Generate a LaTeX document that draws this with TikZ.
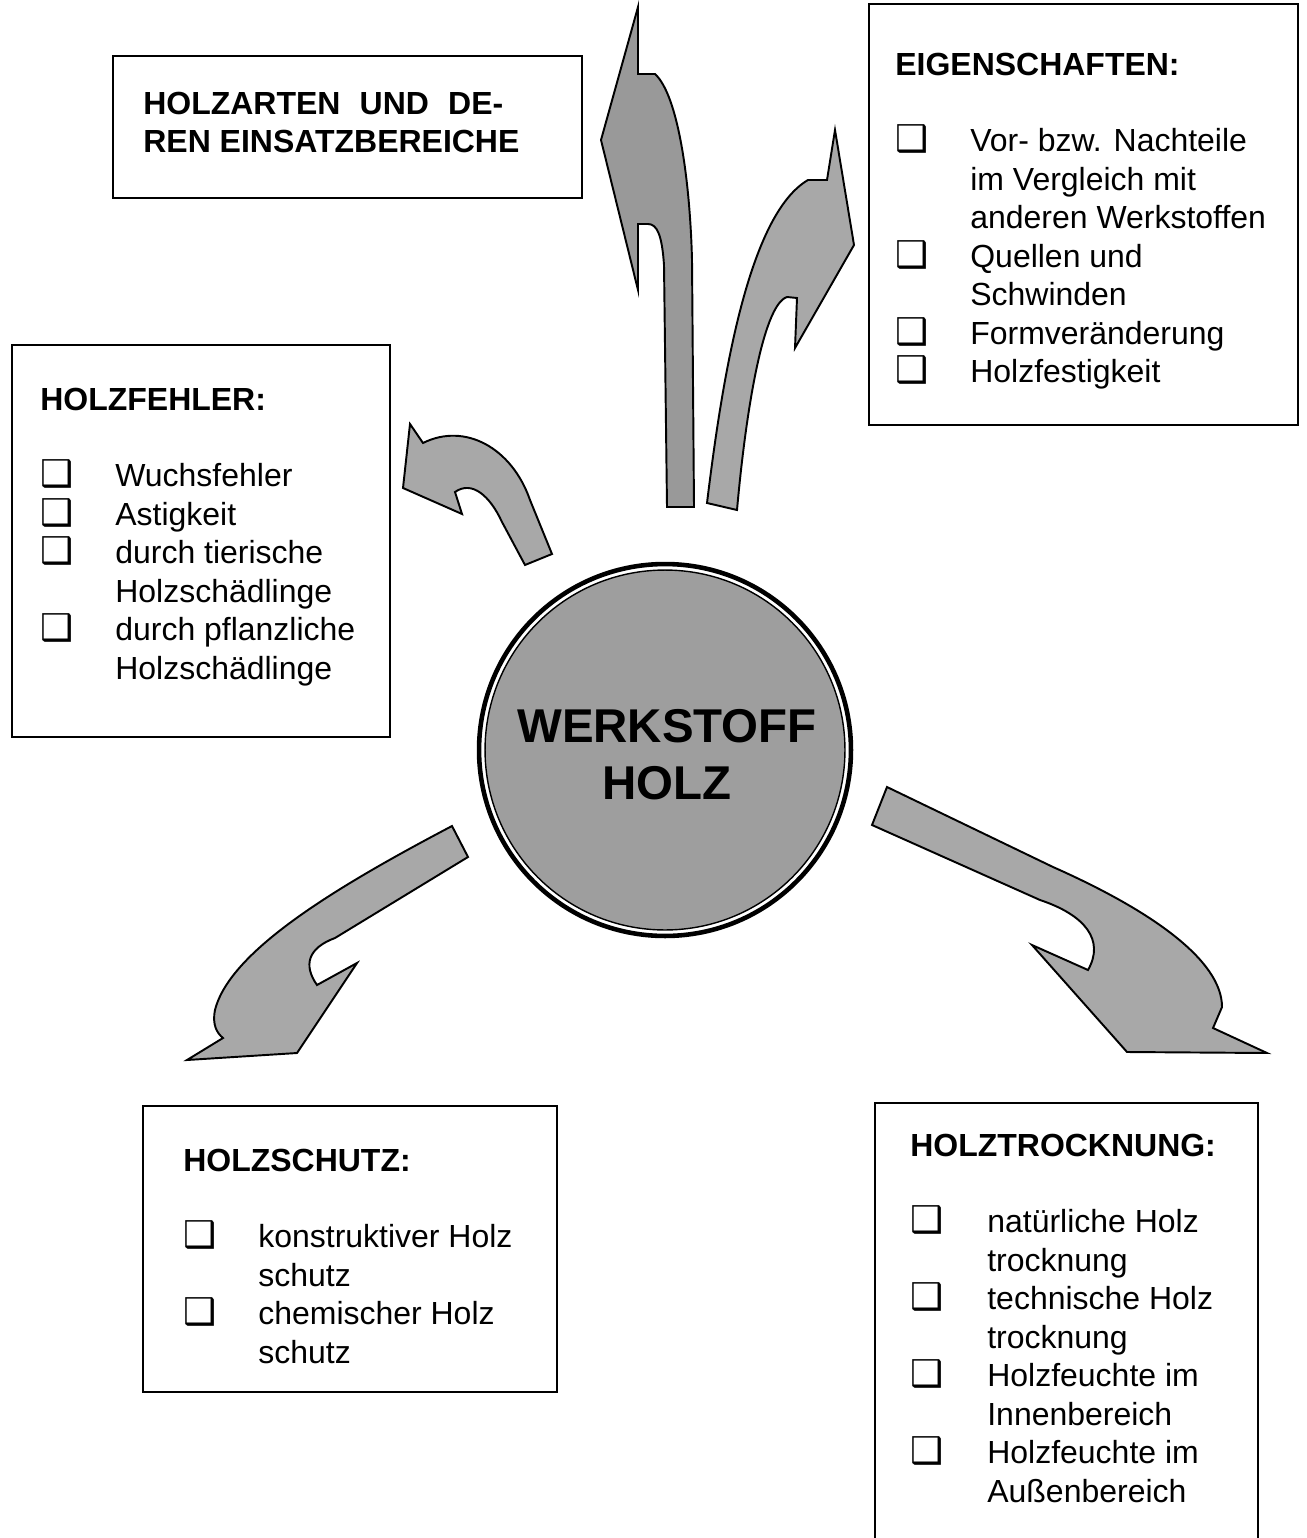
\documentclass[tikz,border=0pt]{standalone}
\usepackage{fontspec}
\setmainfont{Liberation Sans}
\newfontfamily\symfont{DejaVu Sans}
\newcommand{\chk}{{\symfont\fontsize{21}{21.9}\selectfont ❑}}

\begin{document}
\begin{tikzpicture}[x=0.02cm, y=-0.02cm,
    panel/.style={draw, line width=1.1pt, inner sep=0pt, anchor=north west},
    list/.style={anchor=base west, inner sep=0pt, font=\fontsize{18.2}{21.9}\selectfont},
    blockarrow/.style={draw, line width=1.1pt, fill=black!34, line join=miter},
    core/.style={circle, draw, line width=0.8pt, fill=black!38, minimum size=7.2cm,
      inner sep=0pt, align=center, font=\bfseries\fontsize{27}{32.4}\selectfont}]
  \useasboundingbox (0,0) rectangle (1307,1538);
  \clip (0,0) rectangle (1307,1538);

  % boxes
  \node[panel, minimum width=9.38cm, minimum height=2.84cm] (arten) at (112,55) {};
  \node[panel, minimum width=8.58cm, minimum height=8.42cm] (eigen) at (868,3) {};
  \node[panel, minimum width=7.56cm, minimum height=7.84cm] (fehler) at (11,344) {};
  \node[panel, minimum width=8.28cm, minimum height=5.72cm] (schutz) at (142,1105) {};
  \node[panel, minimum width=7.66cm, minimum height=10cm] (trocken) at (874,1102) {};

  \node[list, font=\bfseries\fontsize{18.2}{21.9}\selectfont] (artentxt) at (143,114) {%
    \begin{tabular}[t]{@{}l@{}}
      \makebox[7.2cm][s]{HOLZARTEN UND DE-}\\
      REN EINSATZBEREICHE
    \end{tabular}};

  \node[list] (eigentxt) at (895,75) {%
    \begin{tabular}[t]{@{}p{1.5cm}@{}l@{}}
      \multicolumn{2}{@{}l@{}}{\bfseries EIGENSCHAFTEN:}\\
      \\
      \chk & Vor- bzw. Nachteile\\
           & im Vergleich mit\\
           & anderen Werkstoffen\\
      \chk & Quellen und\\
           & Schwinden\\
      \chk & Formveränderung\\
      \chk & Holzfestigkeit
    \end{tabular}};

  \node[list] (fehlertxt) at (40,410) {%
    \begin{tabular}[t]{@{}p{1.5cm}@{}l@{}}
      \multicolumn{2}{@{}l@{}}{\bfseries HOLZFEHLER:}\\
      \\
      \chk & Wuchsfehler\\
      \chk & Astigkeit\\
      \chk & durch tierische\\
           & Holzschädlinge\\
      \chk & durch pflanzliche\\
           & Holzschädlinge
    \end{tabular}};

  \node[list] (schutztxt) at (183,1171) {%
    \begin{tabular}[t]{@{}p{1.5cm}@{}l@{}}
      \multicolumn{2}{@{}l@{}}{\bfseries HOLZSCHUTZ:}\\
      \\
      \chk & konstruktiver Holz\\
           & schutz\\
      \chk & chemischer Holz\\
           & schutz
    \end{tabular}};

  \node[list] (trockentxt) at (910,1156) {%
    \begin{tabular}[t]{@{}p{1.54cm}@{}l@{}}
      \multicolumn{2}{@{}l@{}}{\bfseries HOLZTROCKNUNG:}\\
      \\
      \chk & natürliche Holz\\
           & trocknung\\
      \chk & technische Holz\\
           & trocknung\\
      \chk & Holzfeuchte im\\
           & Innenbereich\\
      \chk & Holzfeuchte im\\
           & Außenbereich
    \end{tabular}};

  % centre
  \node[core] (holz) at (665,750) {};
  \node[font=\bfseries\fontsize{27}{32.4}\selectfont, align=center, inner sep=0pt] (holztxt) at (667,755) {WERKSTOFF\\HOLZ};
  \draw[line width=2.6pt] (holz.center) circle[radius=3.72cm];

  % arrows
  \draw[blockarrow, fill=black!40] (667,507) -- (664,265) .. controls (662,235) and (657,224) .. (648,224)
    -- (638,224) -- (638,290) -- (601,140) -- (638,7) -- (638,74) -- (655,74)
    .. controls (678,95) and (690,180) .. (692,260) -- (694,507) -- cycle;
  \draw[blockarrow] (707,503) .. controls (722,380) and (748,215) .. (808,180) -- (827,180)
    -- (835,130) -- (854,245) -- (795,348) -- (797,298) -- (787,297)
    .. controls (762,305) and (745,420) .. (737,510) -- cycle;
  \draw[blockarrow] (525,565) -- (502,522) .. controls (490,496) and (472,480) .. (455,492)
    -- (462,514) -- (403,488) -- (410,424) -- (423,443)
    .. controls (465,422) and (512,448) .. (530,500) -- (552,554) -- cycle;
  \draw[blockarrow] (452,826) .. controls (340,885) and (230,950) .. (215,1010)
    .. controls (212,1025) and (217,1033) .. (223,1038) -- (187,1060) -- (297,1053)
    -- (357,963) -- (317,985) .. controls (303,965) and (308,948) .. (335,938)
    -- (468,857) -- cycle;
  \draw[blockarrow] (887,787) -- (1053,867) .. controls (1150,910) and (1222,960) .. (1222,1007)
    -- (1213,1028) -- (1267,1053) -- (1127,1052) -- (1032,945) -- (1088,970)
    .. controls (1105,940) and (1085,915) .. (1040,900) -- (872,825) -- cycle;
\end{tikzpicture}
\end{document}
